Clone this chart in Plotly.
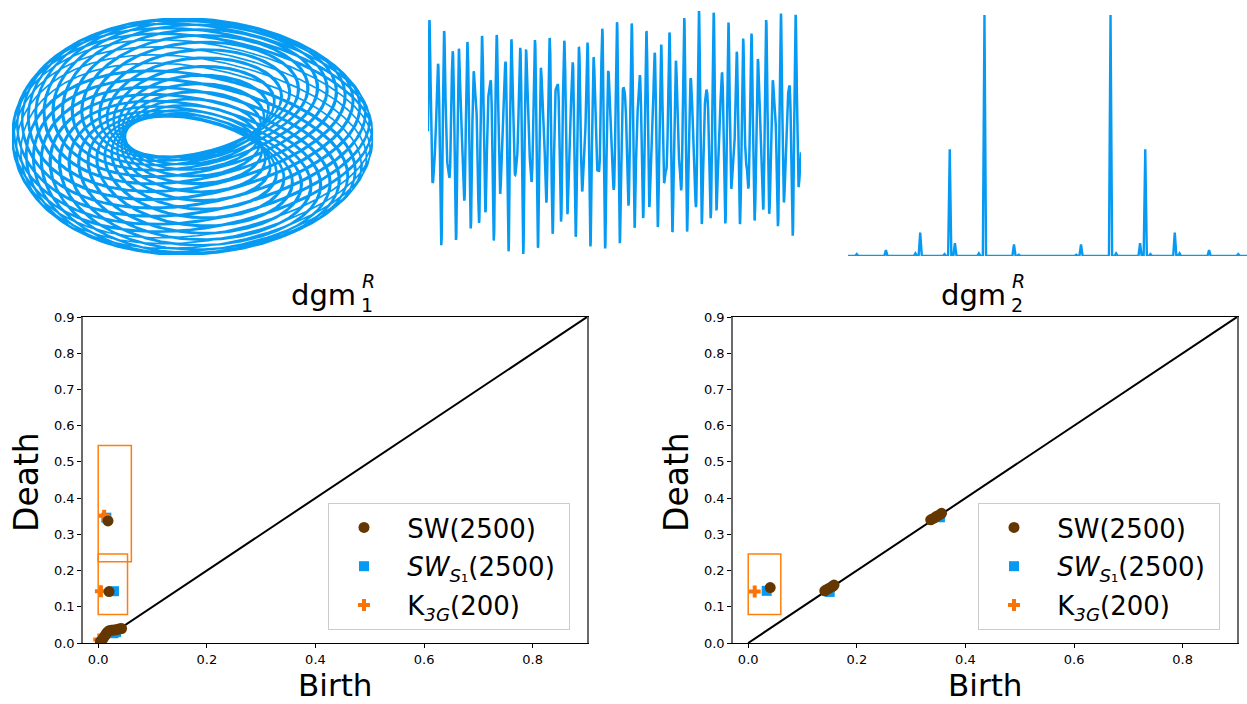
import numpy as np
import plotly.graph_objects as go

W, H = 1247, 704
BLUE = "#069AF3"
BROWN = "#653700"
ORANGE = "#F97306"
BOXC = "#FF7F0E"
FONT = "DejaVu Sans"

# ---------------- data: spectrum peaks (normalised frequency, relative height)
spec_freq = [0.072, 0.084, 0.158, 0.172, 0.232, 0.245, 0.258, 0.319, 0.331, 0.405, 0.478]
spec_height = [0.005, 0.048, 1.0, 0.011, 0.053, 0.443, 0.008, 0.097, 0.011, 0.025, 0.008]

# time-series components derived from the spectrum peaks (cycles / sample, amplitude)
ts_freq = [0.158, 0.245, 0.319, 0.084, 0.232, 0.405]
ts_amp = [1.0, 0.443, 0.097, 0.048, 0.053, 0.025]
ts_samples = 316

# torus illustration parameters
torus_major = [1.0]
torus_minor = [0.458]
torus_laps = [70.0, 1.9]   # laps around the big circle, laps around the tube

# ---------------- data: persistence diagrams
diag = [0.0, 0.9]
d1_sw_b = [0.018, 0.020, 0.004, 0.008, 0.011, 0.014, 0.017, 0.020, 0.024, 0.028, 0.032, 0.036, 0.040, 0.043]
d1_sw_d = [0.337, 0.142, 0.004, 0.010, 0.017, 0.024, 0.030, 0.034, 0.035, 0.036, 0.036, 0.038, 0.039, 0.040]
d1_s1_b = [0.015, 0.029, 0.028, 0.033]
d1_s1_d = [0.346, 0.143, 0.027, 0.030]
d1_k_b = [0.011, 0.005, 0.002]
d1_k_d = [0.351, 0.143, 0.010]
d1_boxes = [[0.0, 0.061, 0.224, 0.545], [0.0, 0.054, 0.079, 0.246]]

d2_sw_b = [0.0405, 0.141, 0.145, 0.150, 0.155, 0.158, 0.336, 0.341, 0.346, 0.351, 0.356]
d2_sw_d = [0.153, 0.144, 0.148, 0.152, 0.156, 0.160, 0.340, 0.344, 0.349, 0.353, 0.358]
d2_s1_b = [0.034, 0.150, 0.353]
d2_s1_d = [0.144, 0.141, 0.347]
d2_k_b = [0.012]
d2_k_d = [0.142]
d2_boxes = [[0.0, 0.060, 0.079, 0.246]]


def fx(px):
    return px / W


def fy(py):
    return 1 - py / H


fig = go.Figure()

# ---------------- torus
R = torus_major[0]
r = torus_minor[0]
u = np.linspace(0, 1, 28000)
th = 2 * np.pi * torus_laps[0] * u
ph = 2 * np.pi * torus_laps[1] * u
tilt = 0.4 + 0.6 * (1 + np.cos(th)) / 2
tx = (R + r * np.cos(ph)) * np.cos(th)
ty = 0.55 * (R + r * np.cos(ph)) * np.sin(th) + tilt * r * np.sin(ph)
ty = ty * (1 - 0.18 * tx / (R + r))
fig.add_trace(go.Scatter(x=tx, y=ty, mode="lines", line=dict(color=BLUE, width=1.7),
                         xaxis="x", yaxis="y", showlegend=False, hoverinfo="skip"))

# ---------------- time series
t = np.linspace(0, ts_samples, 3200)
sig = np.zeros_like(t)
for f, a in zip(ts_freq, ts_amp):
    sig += a * np.sin(2 * np.pi * f * t)
fig.add_trace(go.Scatter(x=t, y=sig, mode="lines", line=dict(color=BLUE, width=2.5),
                         xaxis="x2", yaxis="y2", showlegend=False, hoverinfo="skip"))

# ---------------- spectrum
allf = list(-np.array(spec_freq)) + list(spec_freq)
allh = list(spec_height) + list(spec_height)
order = np.argsort(allf)
sx, sy = [-0.5], [0.0]
w = 0.004
for i in order:
    sx += [allf[i] - w, allf[i], allf[i] + w]
    sy += [0.0, allh[i], 0.0]
sx.append(0.5)
sy.append(0.0)
fig.add_trace(go.Scatter(x=sx, y=sy, mode="lines", line=dict(color=BLUE, width=2.4),
                         xaxis="x3", yaxis="y3", showlegend=False, hoverinfo="skip"))


# ---------------- diagrams
def add_dgm(xa, ya, leg, sw_b, sw_d, s1_b, s1_d, k_b, k_d):
    fig.add_trace(go.Scatter(x=diag, y=diag, mode="lines", line=dict(color="black", width=2),
                             xaxis=xa, yaxis=ya, showlegend=False, hoverinfo="skip"))
    fig.add_trace(go.Scatter(x=s1_b, y=s1_d, mode="markers",
                             name="\u00a0<i>SW</i><sub><i>S</i>\u2081</sub>(2500)\u00a0",
                             marker=dict(symbol="square", color=BLUE, size=10),
                             xaxis=xa, yaxis=ya, legend=leg, legendrank=2, legendgroup=leg + "b"))
    fig.add_trace(go.Scatter(x=k_b, y=k_d, mode="markers", name="\u00a0K<sub><i>3G</i></sub>(200)",
                             marker=dict(symbol="cross", color=ORANGE, size=10),
                             xaxis=xa, yaxis=ya, legend=leg, legendrank=3, legendgroup=leg + "c"))
    fig.add_trace(go.Scatter(x=sw_b, y=sw_d, mode="markers", name="\u00a0SW(2500)",
                             marker=dict(symbol="circle", color=BROWN, size=11),
                             xaxis=xa, yaxis=ya, legend=leg, legendrank=1, legendgroup=leg + "a"))


add_dgm("x4", "y4", "legend", d1_sw_b, d1_sw_d, d1_s1_b, d1_s1_d, d1_k_b, d1_k_d)
add_dgm("x5", "y5", "legend2", d2_sw_b, d2_sw_d, d2_s1_b, d2_s1_d, d2_k_b, d2_k_d)

shapes = []
for xr, yr, boxes in [("x4", "y4", d1_boxes), ("x5", "y5", d2_boxes)]:
    for b in boxes:
        shapes.append(dict(type="rect", xref=xr, yref=yr, x0=b[0], x1=b[1], y0=b[2], y1=b[3],
                           line=dict(color=BOXC, width=1.5), fillcolor="rgba(0,0,0,0)"))

hidden = dict(visible=False, showgrid=False, zeroline=False, automargin=False)
layout = dict(
    template="none",
    width=W, height=H, margin=dict(l=0, r=0, t=0, b=0, pad=0, autoexpand=False),
    paper_bgcolor="white", plot_bgcolor="white",
    font=dict(family=FONT, color="black"),
    shapes=shapes,
    xaxis=dict(hidden, domain=[fx(12), fx(373)], range=[tx.min(), tx.max()]),
    yaxis=dict(hidden, domain=[fy(255), fy(18)], range=[ty.min(), ty.max()]),
    xaxis2=dict(hidden, domain=[fx(428), fx(801)], range=[0, ts_samples]),
    yaxis2=dict(hidden, domain=[fy(254), fy(11)], range=[sig.min(), sig.max()]),
    xaxis3=dict(hidden, domain=[fx(848), fx(1247)], range=[-0.5, 0.5]),
    yaxis3=dict(hidden, domain=[fy(256), fy(15)], range=[0.0, 1.0]),
)

for i, (x0, x1) in zip([4, 5], [(83, 587), (733, 1237)]):
    layout["xaxis%d" % i] = dict(domain=[fx(x0), fx(x1)], range=[-0.028, 0.9], showgrid=False, zeroline=False,
                                 automargin=False,
                                 showline=True, mirror=True, linecolor="black", linewidth=1,
                                 ticks="outside", ticklen=4, tickcolor="black", tickwidth=1,
                                 tickvals=[0.0, 0.2, 0.4, 0.6, 0.8], ticktext=["0.0", "0.2", "0.4", "0.6", "0.8"],
                                 tickfont=dict(size=13, family=FONT, color="black"), anchor="y%d" % i)
    layout["yaxis%d" % i] = dict(domain=[fy(643), fy(317)], range=[0, 0.9], showgrid=False, zeroline=False,
                                 automargin=False,
                                 showline=True, mirror=True, linecolor="#6a6a6a", linewidth=1.5,
                                 ticks="outside", ticklen=4, tickcolor="black", tickwidth=1,
                                 tickvals=[0.0, 0.1, 0.2, 0.3, 0.4, 0.5, 0.6, 0.7, 0.8, 0.9],
                                 ticktext=["0.0", "0.1", "0.2", "0.3", "0.4", "0.5", "0.6", "0.7", "0.8", "0.9"],
                                 tickfont=dict(size=13, family=FONT, color="black"), anchor="x%d" % i)

for name, lx in [("legend", 328), ("legend2", 978)]:
    layout[name] = dict(x=fx(lx), y=fy(503), xanchor="left", yanchor="top",
                        bgcolor="rgba(255,255,255,0.85)", bordercolor="#cccccc", borderwidth=1,
                        font=dict(size=26, family=FONT, color="black"), itemwidth=60,
                        traceorder="grouped", tracegroupgap=2)

fig.update_layout(**layout)

ann = []
for cx, sub in [(335, "1"), (985, "2")]:
    ann.append(dict(text="dgm", x=fx(cx - 12), y=fy(295), xref="paper", yref="paper", showarrow=False,
                    xanchor="center", yanchor="middle", font=dict(size=29, family=FONT)))
    ann.append(dict(text="<i>R</i>", x=fx(cx + 33), y=fy(281), xref="paper", yref="paper", showarrow=False,
                    xanchor="center", yanchor="middle", font=dict(size=19, family=FONT)))
    ann.append(dict(text=sub, x=fx(cx + 32), y=fy(305), xref="paper", yref="paper", showarrow=False,
                    xanchor="center", yanchor="middle", font=dict(size=19, family=FONT)))
    ann.append(dict(text="Birth", x=fx(cx), y=0.0, xref="paper", yref="paper", showarrow=False,
                    xanchor="center", yanchor="bottom", borderpad=0, font=dict(size=31, family=FONT)))
for dx in [26, 676]:
    ann.append(dict(text="Death", x=fx(dx), y=fy(482), xref="paper", yref="paper", showarrow=False,
                    textangle=-90, xanchor="center", yanchor="middle", font=dict(size=33, family=FONT)))
fig.update_layout(annotations=ann)

fig.write_html("out.html")
